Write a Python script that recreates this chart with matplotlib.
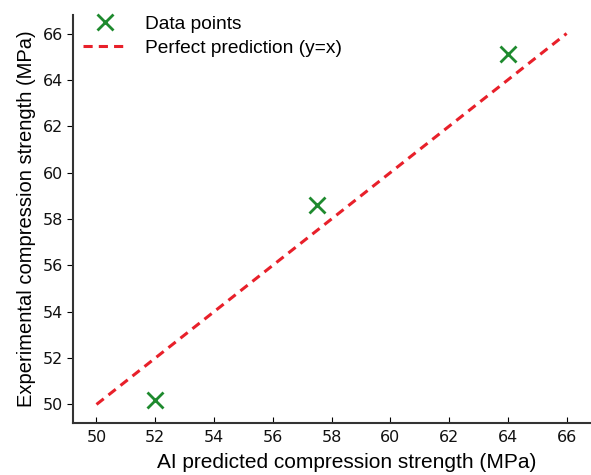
import numpy as np
import matplotlib.pyplot as plt

plt.rcParams['font.family'] = ['Liberation Sans', 'DejaVu Sans']

# data
predicted = [52.0, 57.5, 64.0]
experimental = [50.2, 58.6, 65.1]
ideal = [50, 66]
ticks = list(range(50, 67, 2))

fig = plt.figure(figsize=(5.91, 4.75), dpi=100)
ax = fig.add_axes([0.1235, 0.1095, 0.875, 0.859])

ax.plot(predicted, experimental, 'x', color='#1e8a2e', markersize=11, markeredgewidth=2,
        label='Data points')
ax.plot(ideal, ideal, '--', color='#e8202a', linewidth=2.2, dashes=(3, 2),
        label='Perfect prediction (y=x)')

ax.set_xlim(49.2, 66.8)
ax.set_ylim(49.2, 66.8)
ax.set_xticks(ticks)
ax.set_yticks(ticks)
ax.tick_params(axis='x', direction='in', length=4, pad=5)
ax.tick_params(axis='y', direction='out', length=4, pad=3)
for lab in ax.get_xticklabels() + ax.get_yticklabels():
    lab.set_family('DejaVu Sans')
    lab.set_fontsize(11.5)
    lab.set_color('#111111')
for s in ['top', 'right']:
    ax.spines[s].set_visible(False)
for s in ['left', 'bottom']:
    ax.spines[s].set_linewidth(1.5)
    ax.spines[s].set_color('#333333')

ax.set_xlabel('AI predicted compression strength (MPa)', fontsize=15, labelpad=6, x=0.53)
ax.set_ylabel('Experimental compression strength (MPa)', fontsize=14.5, labelpad=5)

ax.legend(loc='upper left', frameon=False, fontsize=13.8, borderaxespad=0.0,
          handlelength=2.3, handletextpad=0.9, labelspacing=0.35,
          bbox_to_anchor=(0.005, 1.018))

fig.savefig('out.png', dpi=100)
